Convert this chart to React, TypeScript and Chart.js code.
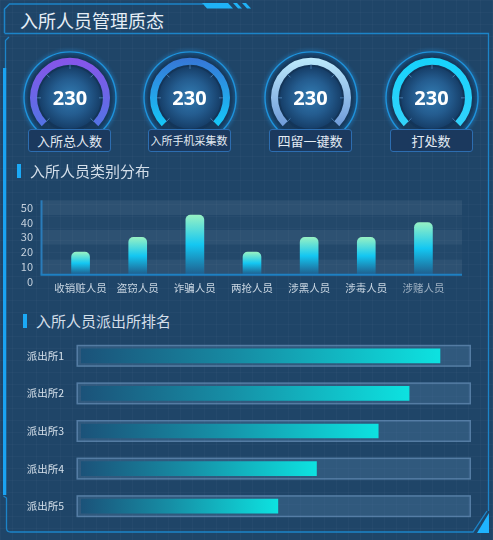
import React, { useEffect, useRef } from "react";
import { Chart, registerables } from "chart.js";

Chart.register(...registerables);

const FONT = '"Noto Sans CJK SC", "Noto Sans", sans-serif';
Chart.defaults.font.family = FONT;

// ---------- data ----------
const GAUGE_LABELS = ["入所总人数", "入所手机采集数", "四留一键数", "打处数"];
const GAUGE_VALUES = [230, 230, 230, 230];
const GAUGE_MAX = 230;

const CATEGORIES = ["收销赃人员", "盗窃人员", "诈骗人员", "两抢人员", "涉黑人员", "涉毒人员", "涉赌人员"];
const CATEGORY_VALUES = [20, 30, 45, 20, 30, 30, 40];
const Y_TICKS = [0, 10, 20, 30, 40, 50];

const STATIONS = ["派出所1", "派出所2", "派出所3", "派出所4", "派出所5"];
const STATION_VALUES = [93, 85, 77, 61, 51];
const STATION_MAX = 100;

// ---------- styles ----------
const BG = "#1f4568";
const GAUGE_CX = [70, 189.5, 310.5, 431.5];
const GAUGE_CY = 98;
const GAUGE_R = 40;
const GAUGE_COLORS: [string, string][] = [
  ["#8c52ea", "#4f76e4"],
  ["#3a6fd4", "#12cffb"],
  ["#c4f1ff", "#6894d6"],
  ["#14d3fc", "#34d2fb"],
];
const LABEL_FONT = [13, 11, 13, 13];

const TAU = Math.PI * 2;

const gaugeDecor = {
  id: "gaugeDecor",
  beforeDatasetsDraw(chart: any) {
    const arc = chart.getDatasetMeta(0).data[0] as any;
    if (!arc) return;
    const { x, y, outerRadius: R, innerRadius: r } = arc;
    const ctx = chart.ctx;
    ctx.save();
    ctx.beginPath();
    ctx.arc(x, y, R + 6, 0, TAU);
    ctx.fillStyle = "rgba(14,42,76,0.45)";
    ctx.fill();
    ctx.lineWidth = 1.4;
    ctx.strokeStyle = "#1f93dc";
    ctx.shadowColor = "rgba(40,170,255,0.9)";
    ctx.shadowBlur = 4;
    ctx.stroke();
    ctx.shadowBlur = 0;
    ctx.beginPath();
    ctx.arc(x, y, r + 0.5, 0, TAU);
    ctx.fillStyle = "#133559";
    ctx.fill();
    const g = ctx.createRadialGradient(x, y - 2, 2, x, y, r - 2);
    g.addColorStop(0, "#3077ad");
    g.addColorStop(0.55, "#245c8f");
    g.addColorStop(1, "#163e68");
    ctx.beginPath();
    ctx.arc(x, y, r - 2, 0, TAU);
    ctx.fillStyle = g;
    ctx.fill();
    ctx.restore();
  },
  afterDatasetsDraw(chart: any) {
    const arc = chart.getDatasetMeta(0).data[0] as any;
    if (!arc) return;
    const { x, y, innerRadius: r } = arc;
    const ctx = chart.ctx;
    ctx.save();
    ctx.strokeStyle = "rgba(110,170,225,0.55)";
    ctx.lineWidth = 1;
    ctx.beginPath();
    for (let k = 0; k <= 6; k++) {
      const a = ((-135 + k * 45 - 90) * Math.PI) / 180;
      ctx.moveTo(x + Math.cos(a) * (r - 4), y + Math.sin(a) * (r - 4));
      ctx.lineTo(x + Math.cos(a) * (r + 0.5), y + Math.sin(a) * (r + 0.5));
    }
    ctx.stroke();
    ctx.restore();
  },
};

function Gauge({ index }: { index: number }) {
  const ref = useRef<HTMLCanvasElement>(null);
  const cx = GAUGE_CX[index];
  // centre of a 270° doughnut is pushed down by R*(1-cos45°)/2 inside its box
  const shift = (GAUGE_R * (1 - Math.SQRT1_2)) / 2;
  useEffect(() => {
    const [c0, c1] = GAUGE_COLORS[index];
    const value = GAUGE_VALUES[index];
    const chart = new Chart(ref.current!, {
      type: "doughnut",
      data: {
        labels: ["value", "rest"],
        datasets: [
          {
            data: [value, Math.max(0, GAUGE_MAX - value)],
            borderWidth: 0,
            backgroundColor: (c: any) => {
              const ch = c.chart;
              if (c.dataIndex === 1) return "rgba(0,0,0,0)";
              if (!ch.chartArea) return c0;
              const g = ch.ctx.createLinearGradient(0, ch.chartArea.top, 0, ch.chartArea.bottom);
              g.addColorStop(0, c0);
              g.addColorStop(1, c1);
              return g;
            },
          },
        ],
      },
      options: {
        responsive: false,
        animation: false,
        events: [],
        rotation: -135,
        circumference: 270,
        cutout: "82.5%",
        layout: { padding: { left: 10, right: 10, top: 10, bottom: 20 } },
        plugins: { legend: { display: false }, tooltip: { enabled: false } },
      } as any,
      plugins: [gaugeDecor],
    });
    return () => chart.destroy();
  }, [index]);
  return (
    <>
      <canvas
        ref={ref}
        width={100}
        height={110}
        style={{ position: "absolute", left: cx - 50, top: GAUGE_CY - 50 - shift, width: 100, height: 110 }}
      />
      <div
        style={{
          position: "absolute",
          left: cx - 40,
          top: GAUGE_CY - 13,
          width: 80,
          height: 26,
          lineHeight: "26px",
          textAlign: "center",
          color: "#ffffff",
          fontFamily: '"Noto Sans", sans-serif',
          fontWeight: 700,
          fontSize: 20,
        }}
      >
        {GAUGE_VALUES[index]}
      </div>
      <div
        style={{
          position: "absolute",
          left: cx - 42,
          top: 129,
          width: 83,
          height: 23,
          boxSizing: "border-box",
          border: "1px solid #2d6db0",
          borderRadius: 3,
          background: "#1b395e",
          color: "#e3ebf3",
          fontSize: LABEL_FONT[index],
          lineHeight: "21px",
          textAlign: "center",
          whiteSpace: "nowrap",
        }}
      >
        {GAUGE_LABELS[index]}
      </div>
    </>
  );
}

function halfStep(y: any) {
  return (y.getPixelForValue(Y_TICKS[0]) - y.getPixelForValue(Y_TICKS[1])) / 2;
}

const categoryDecor = {
  id: "categoryDecor",
  beforeDatasetsDraw(chart: any) {
    const { ctx, chartArea } = chart;
    const y = chart.scales.y;
    const half = halfStep(y);
    const left = chartArea.left - 10.5;
    const right = chartArea.right + 10;
    ctx.save();
    for (let i = 0; i < Y_TICKS.length - 1; i++) {
      const top = y.getPixelForValue(Y_TICKS[i + 1]) - half;
      const bottom = y.getPixelForValue(Y_TICKS[i]) - half;
      ctx.fillStyle = i % 2 === 0 ? "rgba(255,255,255,0.065)" : "rgba(255,255,255,0.02)";
      ctx.fillRect(left, top, right - left, bottom - top);
    }
    ctx.restore();
  },
  beforeDatasetDraw(chart: any) {
    const { ctx, chartArea } = chart;
    const y = chart.scales.y;
    const axisY = y.getPixelForValue(0) - halfStep(y);
    ctx.save();
    ctx.beginPath();
    ctx.rect(chartArea.left - 20, 0, chartArea.width + 40, axisY);
    ctx.clip();
  },
  afterDatasetDraw(chart: any) {
    chart.ctx.restore();
  },
  afterDatasetsDraw(chart: any) {
    const { ctx, chartArea } = chart;
    const y = chart.scales.y;
    const half = halfStep(y);
    const axisY = y.getPixelForValue(0) - half;
    const topY = y.getPixelForValue(Y_TICKS[Y_TICKS.length - 1]) - half;
    const left = chartArea.left - 10.5;
    const right = chartArea.right + 10;
    ctx.save();
    ctx.lineWidth = 2;
    ctx.strokeStyle = "#2a7cba";
    ctx.beginPath();
    ctx.moveTo(left, topY);
    ctx.lineTo(left, axisY);
    ctx.stroke();
    ctx.strokeStyle = "#1f80c2";
    ctx.beginPath();
    ctx.moveTo(left - 1, axisY + 0.5);
    ctx.lineTo(right, axisY + 0.5);
    ctx.stroke();
    ctx.restore();
  },
};

function CategoryChart() {
  const ref = useRef<HTMLCanvasElement>(null);
  useEffect(() => {
    const chart = new Chart(ref.current!, {
      type: "bar",
      data: {
        labels: CATEGORIES,
        datasets: [
          {
            data: CATEGORY_VALUES,
            barThickness: 18,
            borderWidth: 0,
            borderSkipped: "bottom",
            borderRadius: { topLeft: 5, topRight: 5, bottomLeft: 0, bottomRight: 0 },
            backgroundColor: (c: any) => {
              const ch = c.chart;
              if (!ch.chartArea || c.type !== "data") return "#16c8f0";
              const y = ch.scales.y;
              const top = y.getPixelForValue(c.raw);
              const bottom = y.getPixelForValue(0) - halfStep(y);
              const g = ch.ctx.createLinearGradient(0, top, 0, bottom);
              g.addColorStop(0, "#96f1c4");
              g.addColorStop(0.5, "#14c7f2");
              g.addColorStop(1, "#1f5f8e");
              return g;
            },
          },
        ],
      },
      options: {
        responsive: false,
        animation: false,
        events: [],
        layout: { padding: { left: 0, right: 28, top: 17.7, bottom: 0.3 } },
        plugins: { legend: { display: false }, tooltip: { enabled: false } },
        scales: {
          x: {
            grid: { display: false, drawTicks: false },
            border: { display: false },
            ticks: {
              padding: 0,
              maxRotation: 0,
              autoSkip: false,
              font: { size: 10.5 },
              color: (c: any) => (c.index === CATEGORIES.length - 1 ? "#9db0c2" : "#c9d6e2"),
            },
            afterFit: (s: any) => {
              s.height = 18;
              s.paddingLeft = 0;
              s.paddingRight = 0;
            },
          },
          y: {
            min: Y_TICKS[0],
            max: Y_TICKS[Y_TICKS.length - 1],
            grid: { display: false, drawTicks: false },
            border: { display: false },
            ticks: { stepSize: 10, autoSkip: false, padding: 19, font: { size: 11 }, color: "#c5d1dd" },
            afterFit: (s: any) => {
              s.width = 52;
              s.paddingTop = 0;
              s.paddingBottom = 0;
            },
          },
        },
      } as any,
      plugins: [categoryDecor],
    });
    return () => chart.destroy();
  }, []);
  return (
    <canvas
      ref={ref}
      width={480}
      height={110}
      style={{ position: "absolute", left: 0, top: 190, width: 480, height: 110 }}
    />
  );
}

const stationTrack = {
  id: "stationTrack",
  beforeDatasetsDraw(chart: any) {
    const { ctx } = chart;
    const x = chart.scales.x;
    const y = chart.scales.y;
    const x0 = x.getPixelForValue(0) - 4.5;
    const x1 = x.getPixelForValue(STATION_MAX) + 4;
    ctx.save();
    STATIONS.forEach((_, i) => {
      const yc = y.getPixelForValue(i);
      ctx.fillStyle = "rgba(80,125,165,0.35)";
      ctx.fillRect(x0, yc - 11, x1 - x0, 22);
      ctx.strokeStyle = "rgba(115,155,195,0.55)";
      ctx.lineWidth = 1.5;
      ctx.strokeRect(x0 + 0.75, yc - 10.25, x1 - x0 - 1.5, 20.5);
    });
    ctx.restore();
  },
};

function StationChart() {
  const ref = useRef<HTMLCanvasElement>(null);
  useEffect(() => {
    const chart = new Chart(ref.current!, {
      type: "bar",
      data: {
        labels: STATIONS,
        datasets: [
          {
            data: STATION_VALUES,
            barThickness: 14,
            borderWidth: 0,
            backgroundColor: (c: any) => {
              const ch = c.chart;
              if (!ch.chartArea || c.type !== "data") return "#0fd8dc";
              const x = ch.scales.x;
              const x0 = x.getPixelForValue(0);
              const x1 = x.getPixelForValue(c.raw);
              const g = ch.ctx.createLinearGradient(x0, 0, x1, 0);
              g.addColorStop(0, "#1b5279");
              g.addColorStop(0.45, "#168ea5");
              g.addColorStop(1, "#0de2e0");
              return g;
            },
          },
        ],
      },
      options: {
        indexAxis: "y",
        responsive: false,
        animation: false,
        events: [],
        layout: { padding: { left: 0, right: 26, top: 12, bottom: 10 } },
        plugins: { legend: { display: false }, tooltip: { enabled: false } },
        scales: {
          x: { display: false, min: 0, max: STATION_MAX },
          y: {
            grid: { display: false, drawTicks: false },
            border: { display: false },
            ticks: { padding: 17, autoSkip: false, font: { size: 10.5 }, color: "#d5e0ea" },
            afterFit: (s: any) => {
              s.width = 81;
              s.paddingTop = 0;
              s.paddingBottom = 0;
            },
          },
        },
      } as any,
      plugins: [stationTrack],
    });
    return () => chart.destroy();
  }, []);
  return (
    <canvas
      ref={ref}
      width={493}
      height={210}
      style={{ position: "absolute", left: 0, top: 325, width: 493, height: 210 }}
    />
  );
}

function SectionTitle({ barX, textX, cy, text }: { barX: number; textX: number; cy: number; text: string }) {
  return (
    <>
      <div style={{ position: "absolute", left: barX, top: cy - 7, width: 4, height: 14, background: "#1ba9f6" }} />
      <div
        style={{
          position: "absolute",
          left: textX,
          top: cy - 11,
          height: 22,
          lineHeight: "22px",
          fontSize: 15,
          color: "#d3dee9",
          whiteSpace: "nowrap",
        }}
      >
        {text}
      </div>
    </>
  );
}

function Frame() {
  const line = "#1c84c8";
  return (
    <svg width={493} height={540} style={{ position: "absolute", left: 0, top: 0 }}>
      <path d="M4.5,33 L4.5,9 L9.5,4 L203,4" stroke={line} strokeWidth={1.5} fill="none" />
      <polygon points="202,3 228,3 233,8.5 207,8.5" fill="#1fb2f6" />
      <polygon points="233,3 237,3 242,8.5 238,8.5" fill="#1fb2f6" />
      <polygon points="242,3 246,3 251,8.5 247,8.5" fill="#1fb2f6" />
      <path d="M4.5,33.5 L488.5,33.5 L488.5,511" stroke={line} strokeWidth={1.3} fill="none" />
      <path d="M9,37 L5.5,40.5 L5.5,495" stroke={line} strokeWidth={1.3} fill="none" />
      <rect x={3} y={68} width={3.2} height={427} fill="#1aa3f2" />
      <path d="M3.5,496 L6.5,498 L6.5,528 Q6.5,532 10.5,532 L473,532 L487,511" stroke={line} strokeWidth={1.3} fill="none" />
      <polygon points="477,533 489,513 489,533" fill="#1fb4ff" />
    </svg>
  );
}

export default function App() {
  useEffect(() => {
    document.body.style.margin = "0";
  }, []);
  return (
    <div
      style={{
        position: "fixed",
        left: 0,
        top: 0,
        width: 493,
        height: 540,
        overflow: "hidden",
        background: BG,
        backgroundImage:
          "linear-gradient(rgba(255,255,255,0.022) 1px, transparent 1px), linear-gradient(90deg, rgba(255,255,255,0.022) 1px, transparent 1px)",
        backgroundSize: "12px 12px",
        fontFamily: FONT,
      }}
    >
      <Frame />
      <div
        style={{
          position: "absolute",
          left: 20,
          top: 8,
          height: 24,
          lineHeight: "24px",
          fontSize: 18,
          color: "#e6eef6",
          whiteSpace: "nowrap",
        }}
      >
        入所人员管理质态
      </div>
      {GAUGE_LABELS.map((_, i) => (
        <Gauge key={i} index={i} />
      ))}
      <SectionTitle barX={17} textX={30} cy={170.5} text="入所人员类别分布" />
      <CategoryChart />
      <SectionTitle barX={23} textX={36} cy={320.5} text="入所人员派出所排名" />
      <StationChart />
    </div>
  );
}
